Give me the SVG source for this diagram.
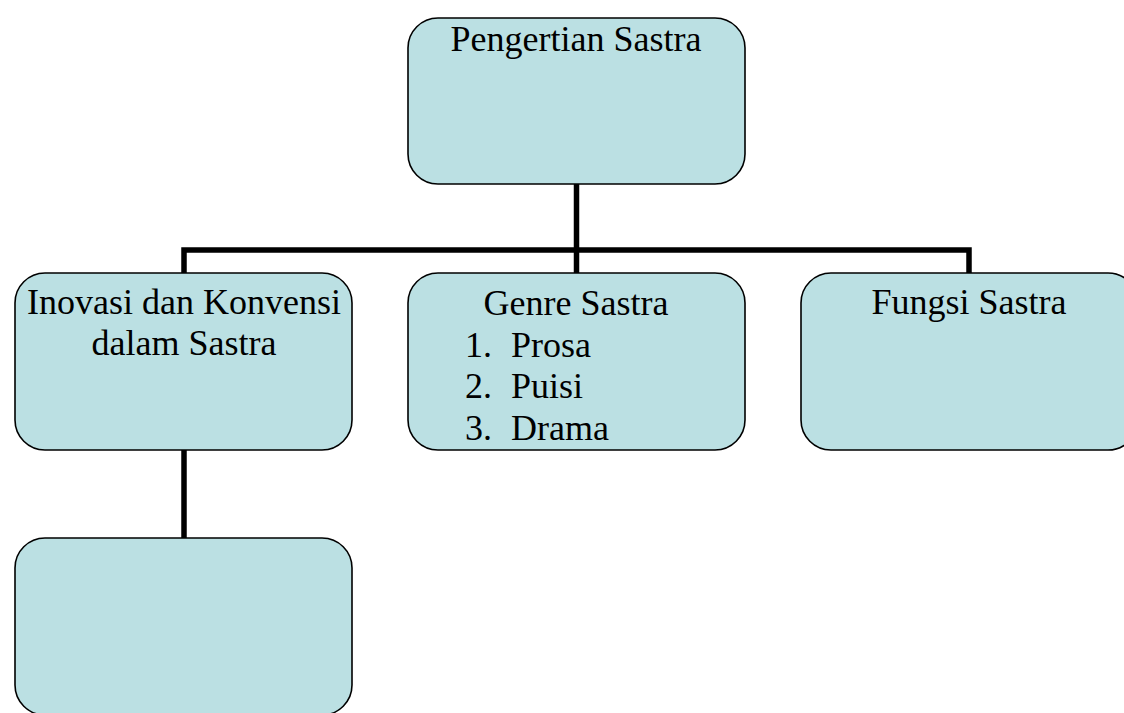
<svg xmlns="http://www.w3.org/2000/svg" width="1124" height="713" viewBox="0 0 1124 713">
<style>
.node rect{fill:#BBE0E3;stroke:#000;stroke-width:1.6}
.node text{font-family:"Liberation Serif","Times New Roman",serif;font-size:36px;fill:#000}
.c{text-anchor:middle}
#connectors path{fill:none;stroke:#000;stroke-width:5.5;stroke-linejoin:miter;stroke-linecap:butt}
</style>
<rect width="1124" height="713" fill="#fff"/>
<g id="connectors">
<path d="M576.5 184V273"/>
<path d="M184 273V250H969V273"/>
<path d="M184 450V538"/>
</g>
<g id="node-pengertian" class="node">
<rect x="408" y="18" width="337" height="166" rx="30"/>
<text class="c" x="576" y="51">Pengertian Sastra</text>
</g>
<g id="node-inovasi" class="node">
<rect x="15" y="273" width="337" height="177" rx="30"/>
<text class="c" x="184" y="314">Inovasi dan Konvensi</text>
<text class="c" x="184" y="355">dalam Sastra</text>
</g>
<g id="node-genre" class="node">
<rect x="408" y="273" width="337" height="177" rx="30"/>
<text class="c" x="576" y="315">Genre Sastra</text>
<text x="465" y="357">1.</text><text x="511" y="357">Prosa</text>
<text x="465" y="398">2.</text><text x="511" y="398">Puisi</text>
<text x="465" y="440">3.</text><text x="511" y="440">Drama</text>
</g>
<g id="node-fungsi" class="node">
<rect x="801" y="273" width="337" height="177" rx="30"/>
<text class="c" x="969" y="314">Fungsi Sastra</text>
</g>
<g id="node-empty" class="node">
<rect x="15" y="538" width="337" height="177" rx="30"/>
</g>
</svg>
